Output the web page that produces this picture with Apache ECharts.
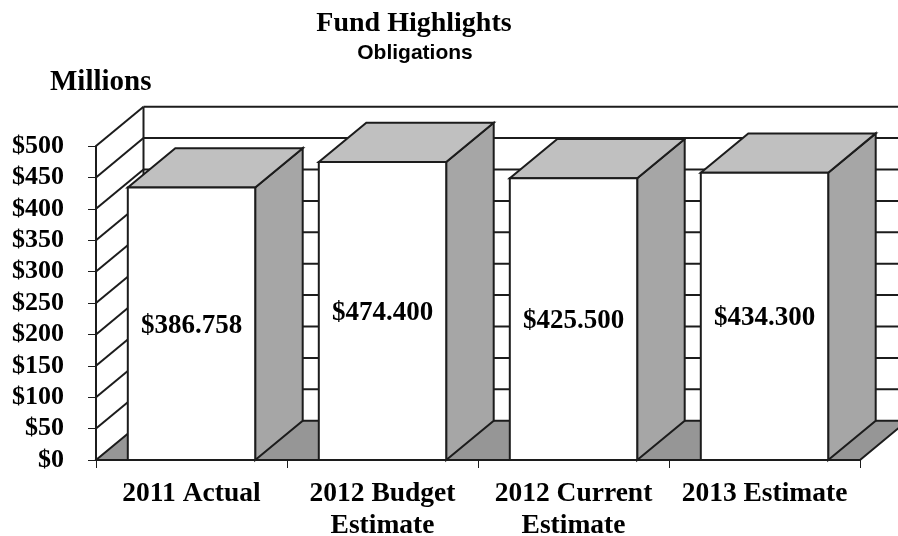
<!DOCTYPE html>
<html>
<head>
<meta charset="utf-8">
<style>html,body{margin:0;padding:0;background:#fff}#c{width:898px;height:536px}</style>
<script src="https://cdn.jsdelivr.net/npm/echarts@6/dist/echarts.min.js"></script>
</head>
<body>
<div id="c"></div>
<script>
var categories = ["2011 Actual", "2012 Budget\nEstimate", "2012 Current\nEstimate", "2013 Estimate"];
// Drawn heights (they differ from the printed labels in the source)
var barHeights = [434, 474.4, 448.5, 457.5];
var valueLabels = ["$386.758", "$474.400", "$425.500", "$434.300"];
var yTicks = [0, 50, 100, 150, 200, 250, 300, 350, 400, 450, 500];

var depthX = 47.5, depthY = 39.3, barRatio = 0.667;
var lineColor = "#1c1c1c", lineW = 2;
var serif = "'Liberation Serif'";

function poly(points, fill, z) {
  return {type: "polygon", z2: z || 0, shape: {points: points},
    style: {fill: fill, stroke: lineColor, lineWidth: lineW, lineJoin: "miter"}};
}
function seg(x1, y1, x2, y2) {
  return {type: "line", shape: {x1: x1, y1: y1, x2: x2, y2: y2},
    style: {stroke: lineColor, lineWidth: lineW, fill: null}};
}

function renderWall(params, api) {
  var v = api.value(1);
  var cs = params.coordSys;
  var left = cs.x, right = cs.x + cs.width;
  var y = api.coord([0, v])[1];
  var children = [];
  if (v === 0) {
    var top = cs.y;
    children.push(poly([[left, y], [right, y], [right + depthX, y - depthY], [left + depthX, y - depthY]], "#969696"));
    children.push(seg(left + depthX, top - depthY, left + depthX, y - depthY));
    children.push(seg(left, top, left, y));
  } else {
    children.push(seg(left + depthX, y - depthY, right + depthX, y - depthY));
    children.push(seg(left, y, left + depthX, y - depthY));
  }
  return {type: "group", children: children};
}

function renderBar(params, api) {
  var idx = api.value(0);
  var p1 = api.coord([idx, api.value(1)]);
  var p0 = api.coord([idx, 0]);
  var w = api.size([1, 0])[0] * barRatio;
  var xl = p1[0] - w / 2, xr = p1[0] + w / 2, yt = p1[1], yb = p0[1];
  return {type: "group", children: [
    poly([[xr, yb], [xr + depthX, yb - depthY], [xr + depthX, yt - depthY], [xr, yt]], "#a6a6a6"),
    poly([[xl, yt], [xr, yt], [xr + depthX, yt - depthY], [xl + depthX, yt - depthY]], "#c0c0c0"),
    poly([[xl, yb], [xr, yb], [xr, yt], [xl, yt]], "#ffffff"),
    {type: "text", z2: 5, style: {
      x: p1[0], y: (yt + yb) / 2 + 2, text: valueLabels[idx], align: "center", verticalAlign: "middle",
      fill: "#000", font: "bold 27px " + serif
    }}
  ]};
}

var chart = echarts.init(document.getElementById("c"), null, {renderer: "canvas"});
chart.setOption({
  animation: false,
  backgroundColor: "#fff",
  title: [
    {text: "Fund Highlights", left: 409, top: 5, textAlign: "center",
      textStyle: {fontFamily: serif, fontWeight: "bold", fontSize: 28, color: "#000"}},
    {text: "Obligations", left: 410, top: 38, textAlign: "center",
      textStyle: {fontFamily: "'Liberation Sans'", fontWeight: "bold", fontSize: 21, color: "#000"}},
    {text: "Millions", left: 45, top: 63,
      textStyle: {fontFamily: serif, fontWeight: "bold", fontSize: 29, color: "#000"}}
  ],
  grid: {left: 96, right: 38, top: 146, bottom: 76, outerBoundsMode: "none"},
  xAxis: {
    type: "category", data: categories, boundaryGap: true,
    axisLine: {show: true, lineStyle: {color: lineColor, width: lineW}},
    axisTick: {show: true, length: 8, alignWithLabel: false, lineStyle: {color: lineColor, width: 1}},
    axisLabel: {interval: 0, margin: 18, lineHeight: 32, color: "#000",
      fontFamily: serif, fontWeight: "bold", fontSize: 27.5, hideOverlap: false},
    splitLine: {show: false}
  },
  yAxis: {
    type: "value", min: 0, max: 500, interval: 50,
    axisLine: {show: true, lineStyle: {color: lineColor, width: lineW}},
    axisTick: {show: true, length: 8, lineStyle: {color: lineColor, width: 1}},
    axisLabel: {margin: 32, color: "#000", fontFamily: serif, fontWeight: "bold", fontSize: 26,
      hideOverlap: false, padding: [2, 0, 0, 0], formatter: function (v) { return "$" + v; }},
    splitLine: {show: false}
  },
  series: [
    {type: "custom", name: "walls", clip: false, silent: true, z: 1,
      coordinateSystem: "cartesian2d", renderItem: renderWall,
      data: yTicks.map(function (v) { return [0, v]; })},
    {type: "custom", name: "bars", clip: false, silent: true, z: 3,
      coordinateSystem: "cartesian2d", renderItem: renderBar,
      data: barHeights.map(function (v, i) { return [i, v]; })}
  ]
});
</script>
</body>
</html>
